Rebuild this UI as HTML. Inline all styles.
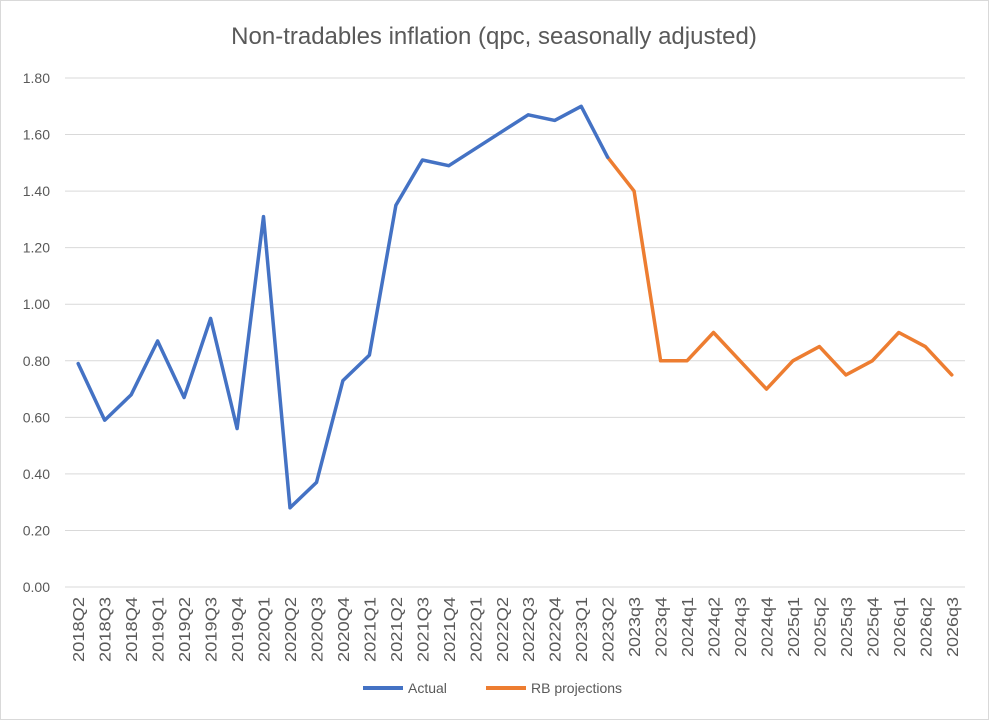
<!DOCTYPE html>
<html><head><meta charset="utf-8"><style>
body{margin:0;background:#fff;}
svg{display:block;font-family:"Liberation Sans",sans-serif;}
</style></head><body>
<svg id="c" width="989" height="720" xmlns="http://www.w3.org/2000/svg">
<rect x="0.5" y="0.5" width="988" height="719" fill="#fff" stroke="#d9d9d9"/>
<text x="494" y="44" text-anchor="middle" font-size="24" fill="#595959">Non-tradables inflation (qpc, seasonally adjusted)</text>
<g id="g"></g>
<line x1="363" y1="688" x2="403" y2="688" stroke="#4472c4" stroke-width="4"/>
<text x="408" y="693" font-size="14" fill="#595959">Actual</text>
<line x1="486" y1="688" x2="526" y2="688" stroke="#ed7d31" stroke-width="4"/>
<text x="531" y="693" font-size="14" fill="#595959">RB projections</text>
</svg>
<script>
var g=document.getElementById('g'),s='';
function Y(v){return 587-v*282.78;}
function X(i){return 65+13.24+i*26.47;}
for(var k=0;k<=9;k++){var v=k*0.2,y=Y(v);
s+='<line x1="65" x2="965" y1="'+y+'" y2="'+y+'" stroke="#d9d9d9"/>';
s+='<text x="50" y="'+(y+5)+'" text-anchor="end" font-size="14" fill="#595959">'+v.toFixed(2)+'</text>';}
var labs=['2018Q2','2018Q3','2018Q4','2019Q1','2019Q2','2019Q3','2019Q4','2020Q1','2020Q2','2020Q3','2020Q4','2021Q1','2021Q2','2021Q3','2021Q4','2022Q1','2022Q2','2022Q3','2022Q4','2023Q1','2023Q2','2023q3','2023q4','2024q1','2024q2','2024q3','2024q4','2025q1','2025q2','2025q3','2025q4','2026q1','2026q2','2026q3'];
for(var i=0;i<labs.length;i++){var x=X(i)+6;var up=labs[i].indexOf('Q')>0;
s+='<text transform="translate('+x+',597) rotate(-90)" text-anchor="end" font-size="16" textLength="'+(up?65:60)+'" lengthAdjust="spacingAndGlyphs" fill="#595959">'+labs[i]+'</text>';}
var a=[0.79,0.59,0.68,0.87,0.67,0.95,0.56,1.31,0.28,0.37,0.73,0.82,1.35,1.51,1.49,1.55,1.61,1.67,1.65,1.70,1.52];
var o=[1.52,1.40,0.80,0.80,0.90,0.80,0.70,0.80,0.85,0.75,0.80,0.90,0.85,0.75];
function pl(d,off,c){var p=d.map(function(v,i){return X(i+off).toFixed(1)+','+Y(v).toFixed(1)}).join(' ');
return '<polyline points="'+p+'" fill="none" stroke="'+c+'" stroke-width="3.5" stroke-linejoin="round" stroke-linecap="round"/>';}
s+=pl(o,20,'#ed7d31')+pl(a,0,'#4472c4');
g.innerHTML=s;
</script>
</body></html>
